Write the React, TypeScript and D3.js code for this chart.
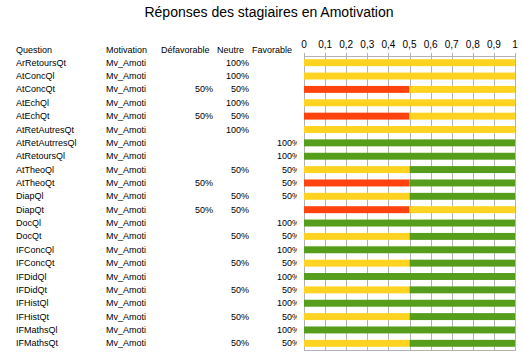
import React from 'react';
import * as d3 from 'd3';

const questions = [
  'ArRetoursQt', 'AtConcQl', 'AtConcQt', 'AtEchQl', 'AtEchQt', 'AtRetAutresQt',
  'AtRetAutrresQl', 'AtRetoursQl', 'AtTheoQl', 'AtTheoQt', 'DiapQl', 'DiapQt',
  'DocQl', 'DocQt', 'IFConcQl', 'IFConcQt', 'IFDidQl', 'IFDidQt',
  'IFHistQl', 'IFHistQt', 'IFMathsQl', 'IFMathsQt',
];
const motivation = 'Mv_Amoti';
const defavorable = [0, 0, 0.5, 0, 0.5, 0, 0, 0, 0, 0.5, 0, 0.5, 0, 0, 0, 0, 0, 0, 0, 0, 0, 0];
const neutre = [1, 1, 0.5, 1, 0.5, 1, 0, 0, 0.5, 0, 0.5, 0.5, 0, 0.5, 0, 0.5, 0, 0.5, 0, 0.5, 0, 0.5];
const favorable = [0, 0, 0, 0, 0, 0, 1, 1, 0.5, 0.5, 0.5, 0, 1, 0.5, 1, 0.5, 1, 0.5, 1, 0.5, 1, 0.5];
const xTicks = [0, 0.1, 0.2, 0.3, 0.4, 0.5, 0.6, 0.7, 0.8, 0.9, 1];
const seriesKeys = ['defavorable', 'neutre', 'favorable'];
const colors = ['#ff420e', '#ffd320', '#579d1c'];

const W = 523;
const H = 358;
const font = '"Liberation Sans", Arial, sans-serif';

export default function App() {
  const rows = questions.map((q, i) => ({
    q,
    defavorable: defavorable[i],
    neutre: neutre[i],
    favorable: favorable[i],
  }));

  const x = d3.scaleLinear().domain([0, 1]).range([304, 515]);
  const y = d3.scaleBand().domain(questions).range([56, 350]).paddingInner(0.48).paddingOuter(0.24);
  const stacked = d3.stack<any>().keys(seriesKeys)(rows);
  const pct = (v: number) => (v > 0 ? `${Math.round(v * 100)}%` : '');
  const rowY = (q: string) => (y(q) as number) + y.bandwidth() / 2 + 3;

  return (
    <div style={{ position: 'fixed', left: 0, top: 0, background: '#fff' }}>
      <svg width={W} height={H} style={{ display: 'block' }} fontFamily={font}>
        <defs>
          <clipPath id="favClip">
            <rect x={0} y={0} width={297} height={H} />
          </clipPath>
        </defs>
        <text x={269} y={17} fontSize={14} textAnchor="middle" fill="#000">
          Réponses des stagiaires en Amotivation
        </text>

        {/* table header */}
        <g fontSize={9} fill="#000">
          <text x={16} y={53}>Question</text>
          <text x={106} y={53}>Motivation</text>
          <text x={161} y={53}>Défavorable</text>
          <text x={217} y={53}>Neutre</text>
          <text x={252} y={53}>Favorable</text>
        </g>

        {/* table rows */}
        <g fontSize={9} fill="#000">
          {rows.map((r) => (
            <g key={r.q}>
              <text x={16} y={rowY(r.q)}>{r.q}</text>
              <text x={106} y={rowY(r.q)}>{motivation}</text>
              <text x={213} y={rowY(r.q)} textAnchor="end">{pct(r.defavorable)}</text>
              <text x={249} y={rowY(r.q)} textAnchor="end">{pct(r.neutre)}</text>
              <text x={300} y={rowY(r.q)} textAnchor="end" clipPath="url(#favClip)">{pct(r.favorable)}</text>
            </g>
          ))}
        </g>

        {/* grid */}
        <g stroke="#b3b3b3" strokeWidth={1}>
          {xTicks.map((t) => (
            <line key={t} x1={Math.round(x(t)) + 0.5} x2={Math.round(x(t)) + 0.5} y1={53} y2={350} />
          ))}
          <line x1={x(0)} x2={x(1) + 1} y1={56.5} y2={56.5} />
          <line x1={x(0)} x2={x(1) + 1} y1={350.5} y2={350.5} />
        </g>

        {/* bars */}
        {stacked.map((s, si) => (
          <g key={s.key} fill={colors[si]}>
            {s.map((d: any) =>
              d[1] - d[0] > 0 ? (
                <rect
                  key={d.data.q}
                  x={x(d[0])}
                  y={y(d.data.q)}
                  width={x(d[1]) - x(d[0])}
                  height={y.bandwidth()}
                />
              ) : null
            )}
          </g>
        ))}

        {/* axis labels */}
        <g fontSize={10} fill="#000" textAnchor="middle">
          {xTicks.map((t) => (
            <text key={t} x={x(t)} y={48}>
              {String(t).replace('.', ',')}
            </text>
          ))}
        </g>
      </svg>
    </div>
  );
}
